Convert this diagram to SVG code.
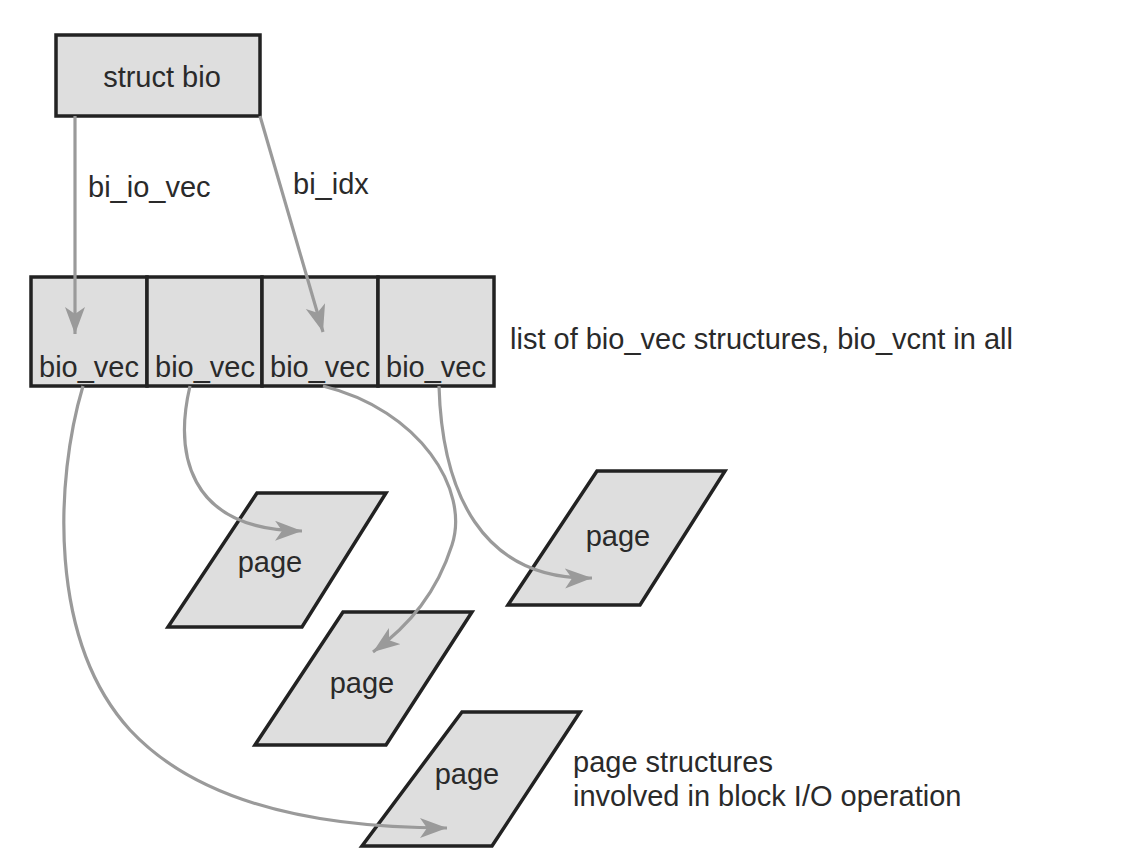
<svg xmlns="http://www.w3.org/2000/svg" width="1122" height="858" viewBox="0 0 1122 858">
<style>
.box{fill:#dedede;stroke:#222;stroke-width:3.5}
.t{font-family:"Liberation Sans",Arial,sans-serif;font-size:29px;fill:#2a2a2a}
.c{stroke:#9a9a9a;stroke-width:3.2;fill:none}
</style>
<defs>
<marker id="ah" markerUnits="userSpaceOnUse" markerWidth="32" markerHeight="24" refX="27" refY="10" orient="auto">
<path d="M0,0 L27,10 L0,20 L7,10 z" fill="#9a9a9a"/>
</marker>
</defs>
<rect width="1122" height="858" fill="#fff"/>
<g id="struct-bio">
<rect class="box" x="56" y="35" width="204" height="81"/>
<text class="t" x="162" y="87" text-anchor="middle">struct bio</text>
</g>
<g id="bio-vec-list">
<rect class="box" x="31" y="277" width="116" height="109"/>
<rect class="box" x="147" y="277" width="115" height="109"/>
<rect class="box" x="262" y="277" width="116" height="109"/>
<rect class="box" x="378" y="277" width="116" height="109"/>
<text class="t" x="89" y="377" text-anchor="middle">bio_vec</text>
<text class="t" x="205" y="377" text-anchor="middle">bio_vec</text>
<text class="t" x="320" y="377" text-anchor="middle">bio_vec</text>
<text class="t" x="436" y="377" text-anchor="middle">bio_vec</text>
</g>
<g id="page1">
<polygon class="box" points="257,493 386,493 302,627 168,627"/>
<text class="t" x="270" y="572" text-anchor="middle">page</text>
</g>
<g id="page2">
<polygon class="box" points="597,471 725,471 640,605 508,605"/>
<text class="t" x="618" y="546" text-anchor="middle">page</text>
</g>
<g id="page3">
<polygon class="box" points="343,612 472,612 386,745 255,745"/>
<text class="t" x="362" y="693" text-anchor="middle">page</text>
</g>
<g id="page4">
<polygon class="box" points="462,712 580,712 492,846 362,846"/>
<text class="t" x="467" y="784" text-anchor="middle">page</text>
</g>
<g id="labels">
<text class="t" x="510" y="349">list of bio_vec structures, bio_vcnt in all</text>
<text class="t" x="573" y="772">page structures</text>
<text class="t" x="573" y="806">involved in block I/O operation</text>
</g>
<g id="connectors">
<line class="c" x1="75" y1="116" x2="75" y2="334" marker-end="url(#ah)"/>
<text class="t" x="88" y="197">bi_io_vec</text>
<line class="c" x1="260" y1="116" x2="323" y2="332" marker-end="url(#ah)"/>
<text class="t" x="293" y="194">bi_idx</text>
<path class="c" d="M83 386 C55 480 48 640 130 730 C200 805 320 828 447 828" marker-end="url(#ah)"/>
<path class="c" d="M190 386 C175 450 185 530 302 531" marker-end="url(#ah)"/>
<path class="c" d="M323 386 C420 410 470 490 452 545 C437 592 410 625 373 652" marker-end="url(#ah)"/>
<path class="c" d="M439 386 C442 490 480 580 592 578" marker-end="url(#ah)"/>
</g>
</svg>
